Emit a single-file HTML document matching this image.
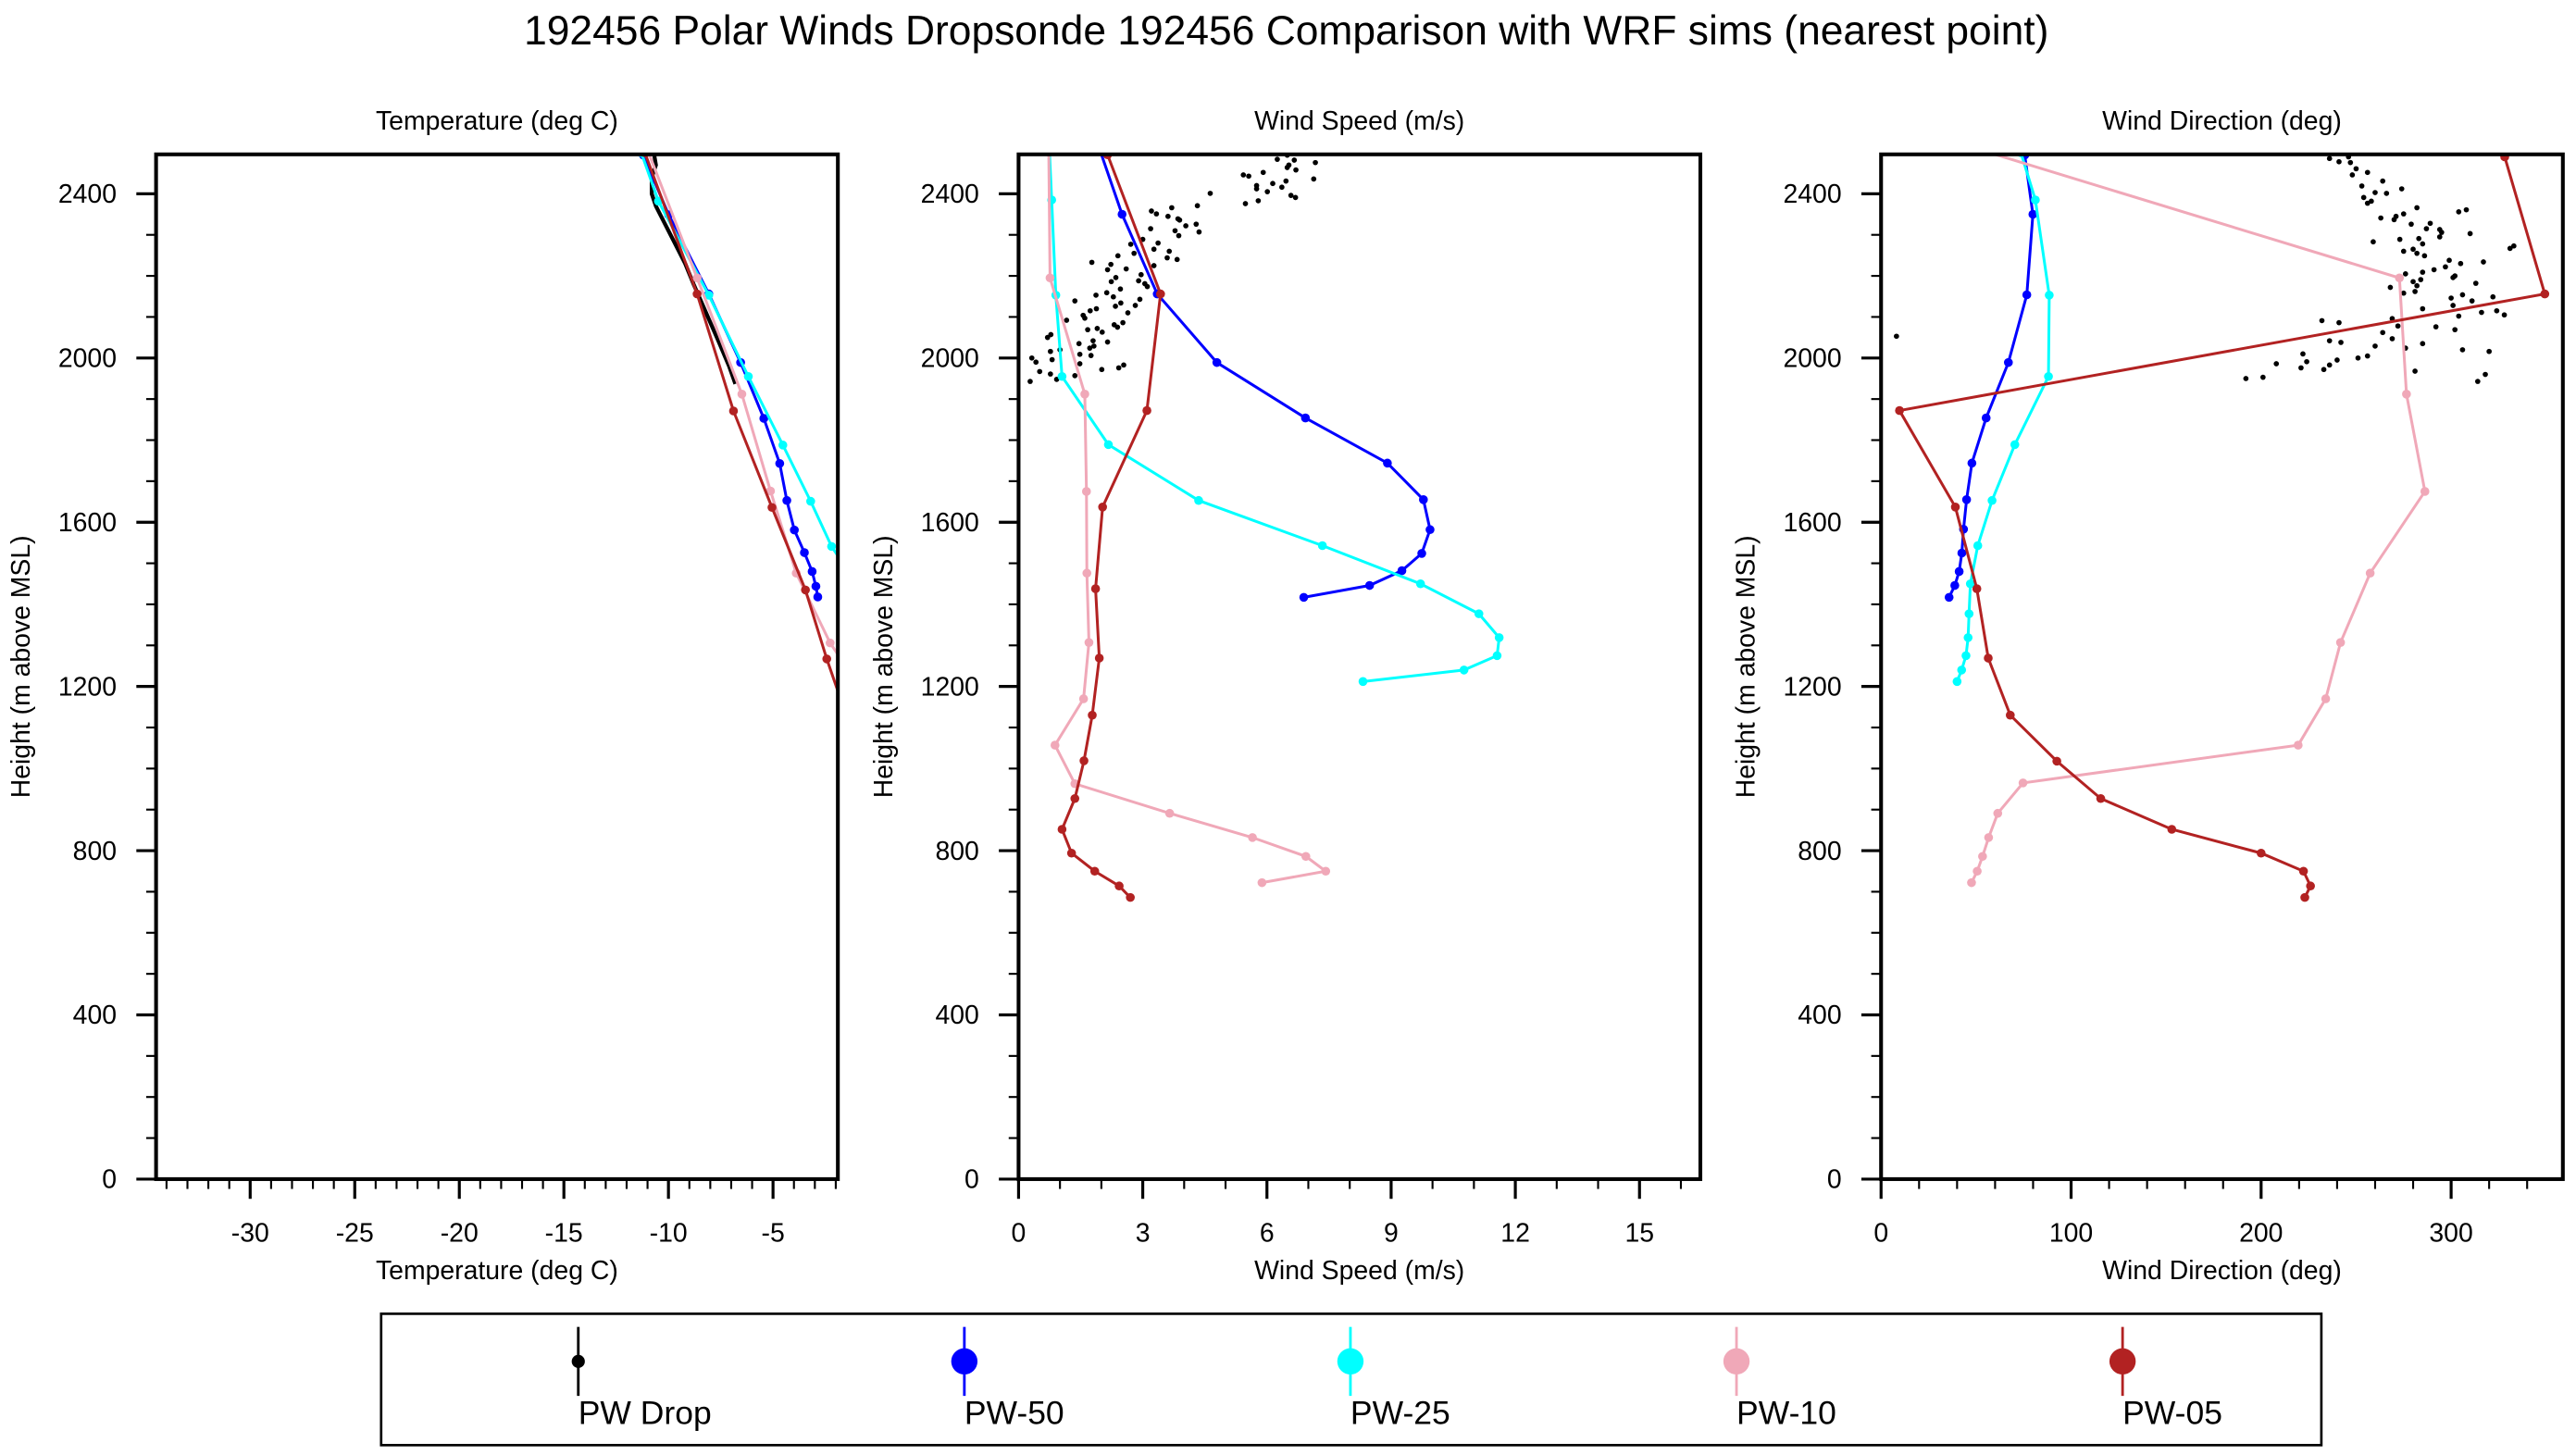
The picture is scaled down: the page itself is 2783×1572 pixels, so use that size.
<!DOCTYPE html>
<html><head><meta charset="utf-8"><style>
html,body{margin:0;padding:0;background:#fff;}
svg{display:block;font-family:"Liberation Sans",sans-serif;}
</style></head><body>
<svg id="chart" width="2783" height="1572" viewBox="0 0 1568 886" preserveAspectRatio="none" xmlns="http://www.w3.org/2000/svg">
<rect width="1568" height="886" fill="#fff"/>
<text x="783" y="27" font-size="25" text-anchor="middle">192456 Polar Winds Dropsonde 192456 Comparison with WRF sims (nearest point)</text>
<g id="panels"></g>
<g id="legend">
<rect x="232" y="800" width="1181" height="80" fill="none" stroke="#000" stroke-width="1.5"/>
</g>
</svg>
<script>
// ---------- DATA ----------
const heightTicks=[0,400,800,1200,1600,2000,2400];
const tempTicks=[-30,-25,-20,-15,-10,-5];
const speedTicks=[0,3,6,9,12,15];
const dirTicks=[0,100,200,300];
// Temperature (deg C) , height (m)
const t50T=[-2.86,-2.95,-3.13,-3.5,-3.98,-4.34,-4.68,-5.44,-6.55,-8.07,-9.99,-11.2];
const t50H=[1418,1444,1480,1526,1581,1653,1743,1853,1989,2156,2349,2494];
const t25T=[-1.4,-2.2,-3.2,-4.53,-6.18,-8.07,-10.48,-11.3];
const t25H=[1480,1541,1651,1788,1955,2153,2382,2500];
const t10T=[-1.4,-2.27,-3.89,-5.12,-6.49,-8.63,-10.95];
const t10H=[1240,1306,1476,1676,1912,2195,2500];
const t05T=[-1.5,-2.43,-3.45,-5.05,-6.89,-8.63,-11.13];
const t05H=[1130,1267,1435,1636,1871,2156,2500];
const tDropT=[-10.7,-10.6,-10.8,-10.8,-10.6,-10.2,-9.7,-9.2,-8.8,-8.2,-7.6,-7.1,-6.8];
const tDropH=[2500,2470,2440,2400,2370,2330,2280,2230,2180,2110,2040,1980,1937];
// Wind speed (m/s)
const s50S=[6.89,8.48,9.26,9.74,9.94,9.78,8.91,6.93,4.79,3.35,2.50,1.85];
const s50H=[1417,1446,1482,1524,1582,1655,1744,1854,1989,2156,2350,2540];
const s25S=[8.32,10.76,11.56,11.61,11.12,9.71,7.34,4.35,2.17,1.05,0.90,0.80,0.72];
const s25H=[1212,1240,1275,1319,1377,1450,1543,1653,1789,1955,2153,2385,2560];
const s10S=[5.88,7.42,6.94,5.65,3.65,1.36,0.88,1.57,1.70,1.65,1.64,1.60,0.76,0.72];
const s10H=[722,750,786,832,891,963,1057,1170,1307,1476,1675,1912,2195,2600];
const s05S=[2.70,2.43,1.84,1.28,1.05,1.36,1.58,1.78,1.95,1.86,2.03,3.10,3.43,2.15];
const s05H=[686,714,750,794,852,927,1019,1130,1269,1438,1637,1872,2156,2495];
const sDropS=[0.28,0.51,0.77,0.92,0.32,0.42,0.81,0.77,1.0,0.70,0.78,1.36,1.48,1.48,1.72,1.82,1.46,1.80,1.75,2.01,2.42,2.54,1.67,1.90,2.02,2.15,1.16,1.56,1.60,1.73,1.88,2.31,2.39,2.52,1.36,1.87,2.13,2.29,2.34,2.47,2.64,2.82,2.93,2.24,2.35,2.46,2.15,2.23,1.77,2.40,2.60,2.90,2.96,3.05,3.11,2.79,2.71,3.0,3.27,3.37,3.27,3.59,3.64,3.83,3.19,3.21,3.33,3.61,3.70,3.85,3.89,4.04,4.29,4.36,3.78,3.87,4.32,4.63,5.48,5.79,5.43,5.56,5.91,5.75,5.75,6.01,6.14,6.36,6.46,6.58,6.69,6.25,6.49,6.49,6.53,6.70,6.66,7.17,7.13];
const sDropH=[1943,1967,1961,1948,2000,1990,1996,2016,2020,2050,2057,1957,1986,2009,2024,2029,2035,2042,2006,1972,1976,1983,2069,2072,2063,2039,2092,2104,2097,2115,2120,2081,2075,2086,2139,2153,2159,2149,2126,2134,2110,2128,2143,2186,2196,2168,2215,2228,2233,2249,2217,2188,2203,2181,2174,2255,2277,2289,2265,2280,2225,2244,2260,2240,2315,2358,2351,2345,2366,2339,2336,2322,2326,2307,2310,2298,2371,2401,2376,2383,2446,2443,2452,2420,2412,2405,2425,2416,2431,2396,2391,2484,2494,2464,2470,2458,2482,2476,2436];
// Wind direction (deg)
const d50D=[35.8,38.8,41.1,42.5,43.4,45.0,47.8,55.3,67.0,76.7,79.9,75.6,73];
const d50H=[1417,1446,1480,1525,1583,1655,1744,1854,1989,2154,2350,2494,2540];
const d25D=[40.0,42.4,44.7,45.8,46.3,47.0,50.9,58.4,70.4,88.1,88.5,81.2,73.6,70];
const d25H=[1212,1240,1275,1319,1377,1450,1543,1653,1789,1955,2153,2385,2500,2540];
const d10D=[47.6,50.6,53.4,56.6,61.4,74.7,219.5,234,241.8,257.4,286.2,276.5,272.8,50];
const d10H=[722,750,786,832,891,965,1057,1170,1307,1476,1675,1912,2195,2510];
const d05D=[223,226,222.3,200,153,115.6,92.5,68,56.4,50.4,39.1,9.7,349.3,328.2];
const d05H=[686,714,750,794,852,927,1018,1130,1269,1438,1637,1872,2156,2490];
const dDropD=[8.1,192,201,208,221,224,222,233,236,240,232,241,236,242,251,256,260,264,269,269,272,276,281,285,292,302,306,314,318,320,304,311,316,324,328,322,306,301,300,285,268,275,281,282,284,280,291,297,301,302,313,317,305,299,276,285,275,280,282,286,285,283,273,259,263,270,275,271,279,282,287,289,294,295,294,310,304,308,331,333,254,258,260,266,256,274,264,253,256,248,250,247,241,236,246];
const dDropH=[2053,1950,1953,1986,1976,1991,2010,1972,1983,1995,2091,2086,2042,2038,2000,2005,2029,2062,2047,2096,2078,2024,1968,2035,2076,2069,2020,1943,1960,2016,2102,2139,2111,2115,2105,2149,2154,2128,2146,2120,2172,2158,2162,2176,2191,2186,2215,2222,2196,2200,2182,2234,2230,2238,2205,2209,2260,2265,2255,2249,2278,2291,2289,2283,2341,2337,2351,2345,2326,2366,2315,2328,2313,2306,2295,2303,2356,2361,2267,2273,2391,2382,2403,2401,2377,2412,2431,2419,2452,2446,2461,2476,2478,2486,2490];

// ---------- DRAW ----------
const NS='http://www.w3.org/2000/svg';
const panelsG=document.getElementById('panels');
const C={b:'#0000ff',c:'#00ffff',p:'#f0a8b8',r:'#b22222',k:'#000'};
function mk(tag,parent){const e=document.createElementNS(NS,tag);parent.appendChild(e);return e;}
const plotTop=94,plotBot=718,hMin=0,hMax=2496;
function yS(h){return plotBot-(h-hMin)/(hMax-hMin)*(plotBot-plotTop);}

function panel(idx,x0,x1,vMin,vMax,ticks,minorStep,title,series,drop){
  const g=mk('g',panelsG);
  
  
  const xS=v=>x0+(v-vMin)/(vMax-vMin)*(x1-x0);
  const cp=mk('clipPath',g);cp.setAttribute('id','clip'+idx);
  const cr=mk('rect',cp);cr.setAttribute('x',x0);cr.setAttribute('y',plotTop);cr.setAttribute('width',x1-x0);cr.setAttribute('height',plotBot-plotTop);
  const t=mk('text',g);t.setAttribute('x',(x0+x1)/2);t.setAttribute('y',79);t.setAttribute('font-size',16);t.setAttribute('text-anchor','middle');t.textContent=title;
  
  
  const xt=mk('text',g);xt.setAttribute('x',(x0+x1)/2);xt.setAttribute('y',779);xt.setAttribute('font-size',16);xt.setAttribute('text-anchor','middle');xt.textContent=title;
  
  
  const yt=mk('text',g);yt.setAttribute('transform','translate('+(x0-77)+','+((plotTop+plotBot)/2)+') rotate(-90)');yt.setAttribute('font-size',16);yt.setAttribute('text-anchor','middle');yt.textContent='Height (m above MSL)';
  
  
  const plot=mk('g',g);plot.setAttribute('clip-path','url(#clip'+idx+')');
  if(drop){
    drop.v.forEach((v,i)=>{const c=mk('circle',plot);c.setAttribute('cx',xS(v));c.setAttribute('cy',yS(drop.h[i]));c.setAttribute('r',1.6);c.setAttribute('fill','#000');
      
      });
  }
  series.forEach(s=>{
    const sg=mk('g',plot);
    
    
    const pl=mk('polyline',sg);
    pl.setAttribute('points',s.v.map((v,i)=>xS(v)+','+yS(s.h[i])).join(' '));
    pl.setAttribute('fill','none');pl.setAttribute('stroke',s.col);pl.setAttribute('stroke-width',s.w||1.7);
    if(s.dots!==false){s.v.forEach((v,i)=>{const c=mk('circle',sg);c.setAttribute('cx',xS(v));c.setAttribute('cy',yS(s.h[i]));c.setAttribute('r',2.7);c.setAttribute('fill',s.col);
      
      });}
  });
  const fr=mk('rect',g);fr.setAttribute('x',x0);fr.setAttribute('y',plotTop);fr.setAttribute('width',x1-x0);fr.setAttribute('height',plotBot-plotTop);fr.setAttribute('fill','none');fr.setAttribute('stroke','#000');fr.setAttribute('stroke-width',2.3);
  
  
  for(let h=0;h<=2500;h+=100){const y=yS(h);if(y<plotTop-0.5)continue;const major=h%400===0;
    const l=mk('line',g);l.setAttribute('x1',x0);l.setAttribute('x2',x0-(major?12:6));l.setAttribute('y1',y);l.setAttribute('y2',y);l.setAttribute('stroke','#000');l.setAttribute('stroke-width',major?1.8:1.2);}
  heightTicks.forEach(h=>{const tx=mk('text',g);tx.setAttribute('x',x0-24);tx.setAttribute('y',yS(h)+5.5);tx.setAttribute('font-size',16);tx.setAttribute('text-anchor','end');tx.textContent=h;
    
    });
  const start=Math.ceil(vMin/minorStep)*minorStep;
  for(let v=start;v<=vMax+1e-9;v+=minorStep){const x=xS(v);const major=ticks.some(tk=>Math.abs(tk-v)<1e-6);
    const l=mk('line',g);l.setAttribute('x1',x);l.setAttribute('x2',x);l.setAttribute('y1',plotBot);l.setAttribute('y2',plotBot+(major?12:6));l.setAttribute('stroke','#000');l.setAttribute('stroke-width',major?1.8:1.2);}
  ticks.forEach(v=>{const tx=mk('text',g);tx.setAttribute('x',xS(v));tx.setAttribute('y',756);tx.setAttribute('font-size',16);tx.setAttribute('text-anchor','middle');tx.textContent=v;
    
    });
}
panel(1,95,510,-34.5,-1.9,tempTicks,1,'Temperature (deg C)',[
  {name:'pw-drop-line',v:tDropT,h:tDropH,col:C.k,w:2.4,dots:false},
  {name:'pw-50-line',v:t50T,h:t50H,col:C.b},
  {name:'pw-25-line',v:t25T,h:t25H,col:C.c},
  {name:'pw-10-line',v:t10T,h:t10H,col:C.p},
  {name:'pw-05-line',v:t05T,h:t05H,col:C.r}],null);
panel(2,620,1035,0,16.47,speedTicks,1,'Wind Speed (m/s)',[
  {name:'pw-50-line',v:s50S,h:s50H,col:C.b},
  {name:'pw-25-line',v:s25S,h:s25H,col:C.c},
  {name:'pw-10-line',v:s10S,h:s10H,col:C.p},
  {name:'pw-05-line',v:s05S,h:s05H,col:C.r}],{v:sDropS,h:sDropH});
panel(3,1145,1560,0,358.8,dirTicks,20,'Wind Direction (deg)',[
  {name:'pw-50-line',v:d50D,h:d50H,col:C.b},
  {name:'pw-25-line',v:d25D,h:d25H,col:C.c},
  {name:'pw-10-line',v:d10D,h:d10H,col:C.p},
  {name:'pw-05-line',v:d05D,h:d05H,col:C.r}],{v:dDropD,h:dDropH});

const legendNames=['PW Drop','PW-50','PW-25','PW-10','PW-05'];
const legendCols=[C.k,C.b,C.c,C.p,C.r];
const lg=document.getElementById('legend');
legendNames.forEach((n,i)=>{
  const x=352+i*235;
  const e=mk('g',lg);
  
  
  const l=mk('line',e);l.setAttribute('x1',x);l.setAttribute('x2',x);l.setAttribute('y1',808);l.setAttribute('y2',850);l.setAttribute('stroke',legendCols[i]);l.setAttribute('stroke-width',1.6);
  const c=mk('circle',e);c.setAttribute('cx',x);c.setAttribute('cy',829);c.setAttribute('r',i===0?4:8);c.setAttribute('fill',legendCols[i]);
  const t=mk('text',e);t.setAttribute('x',x);t.setAttribute('y',867);t.setAttribute('font-size',20);t.textContent=n;
});
</script>
</body></html>
